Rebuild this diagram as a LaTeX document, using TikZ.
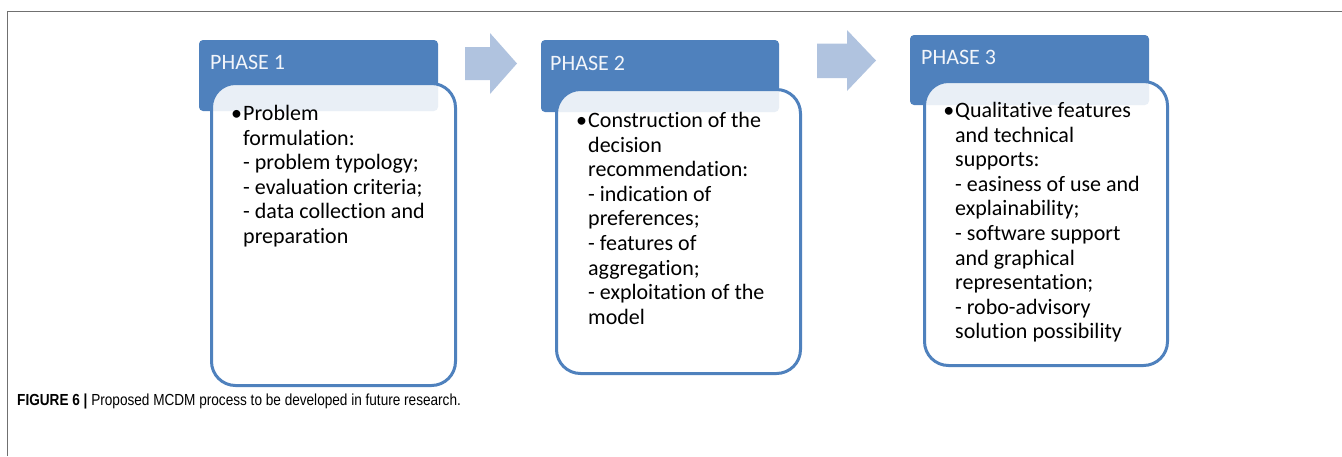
\documentclass[tikz,border=0pt]{standalone}
\usepackage{fontspec}
\setmainfont{Carlito}[Ligatures=NoCommon]
\newfontfamily\capfont[FakeStretch=0.85]{Liberation Sans}
\usetikzlibrary{calc}
\definecolor{phaseblue}{HTML}{4F81BD}
\definecolor{arrowblue}{HTML}{B0C3DF}
\definecolor{headtext}{HTML}{F2F5FA}
\definecolor{framegray}{HTML}{707070}

\begin{document}
\begin{tikzpicture}[x=1pt,y=-1pt,
  head/.style={fill=phaseblue,rounded corners=4pt,anchor=north west,inner sep=0pt,outer sep=0pt},
  body/.style={draw=phaseblue,line width=3pt,fill=white,fill opacity=.88,draw opacity=1,rounded corners=24pt,anchor=north west,inner sep=0pt,outer sep=0pt},
  headlabel/.style={anchor=base west,inner sep=0pt,text=headtext,font=\fontsize{22}{24}\selectfont},
  bodytext/.style={anchor=north west,inner sep=0pt,align=left,font=\fontsize{22}{24.6}\selectfont}]
% Page size and frame of the figure
\useasboundingbox (0,0) rectangle (1342,456);
\coordinate (fl) at (7.5,456);
\coordinate (fr) at (1342,11.5);
\draw [framegray,line width=1.5pt] (fl) |- (fr);
% Phase 1: header, then body on top of it
\node [head,minimum width=239pt,minimum height=71pt] (h1) at (199,40) {};
\node [headlabel] (l1) at (210,69) {PHASE 1};
\node [body,minimum width=244pt,minimum height=302pt] (b1) at (211.5,83.5) {};
\node [bodytext] (t1) at (243,105) {\llap{\textbullet\kern1pt}Problem\\formulation:\\- problem typology;\\- evaluation criteria;\\- data collection and\\preparation};
% Arrow from phase 1 to phase 2
\fill [arrowblue] (465,47) -- (490,47) -- (490,33) -- (517,63.5) -- (490,94) -- (490,80) -- (465,80) -- cycle;
% Phase 2
\node [head,minimum width=238pt,minimum height=72pt] (h2) at (541,40) {};
\node [headlabel] (l2) at (550,70) {PHASE 2};
\node [body,minimum width=244pt,minimum height=284pt] (b2) at (556.5,89.5) {};
\node [bodytext] (t2) at (588,112) {\llap{\textbullet\kern1pt}Construction of the\\decision\\recommendation:\\- indication of\\preferences;\\- features of\\aggregation;\\- exploitation of the\\model};
% Arrow from phase 2 to phase 3
\fill [arrowblue] (817,43.5) -- (847,43.5) -- (847,30) -- (876,60.5) -- (847,91) -- (847,78) -- (817,78) -- cycle;
% Phase 3
\node [head,minimum width=239pt,minimum height=70pt] (h3) at (910,35) {};
\node [headlabel] (l3) at (921,64) {PHASE 3};
\node [body,minimum width=243pt,minimum height=284pt] (b3) at (924.5,81.5) {};
\node [bodytext] (t3) at (955,102) {\llap{\textbullet\kern1pt}Qualitative features\\and technical\\supports:\\- easiness of use and\\explainability;\\- software support\\and graphical\\representation;\\- robo-advisory\\solution possibility};
% Caption
\node [anchor=base west,inner sep=0pt] (cap) at (17,405) {\capfont\fontsize{16}{18}\selectfont\textbf{FIGURE 6 |} Proposed MCDM process to be developed in future research.};
\end{tikzpicture}
\end{document}
